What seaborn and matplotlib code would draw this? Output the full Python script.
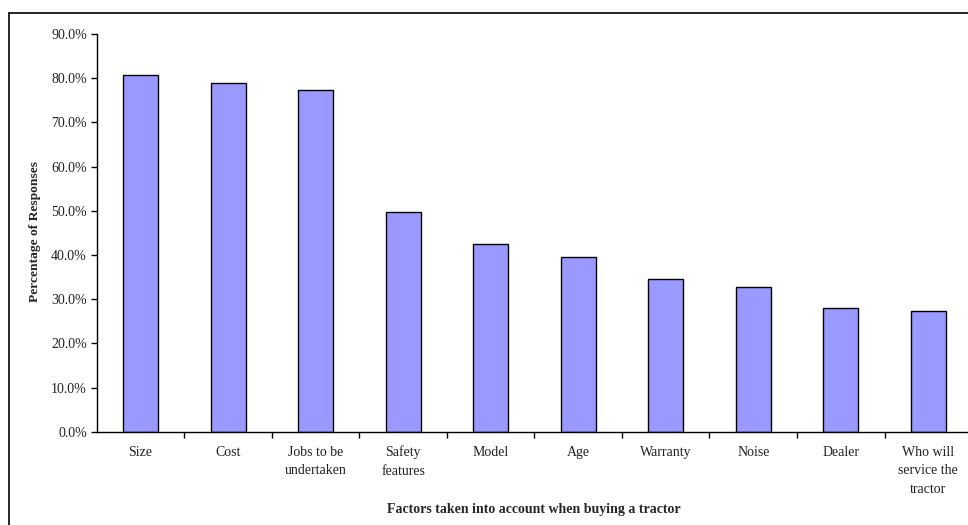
import matplotlib
matplotlib.use("Agg")
import matplotlib.pyplot as plt
from matplotlib.lines import Line2D
from matplotlib.ticker import FixedLocator, PercentFormatter
import seaborn as sns
import pandas as pd

factors = ["Size", "Cost", "Jobs to be\nundertaken", "Safety\nfeatures", "Model",
           "Age", "Warranty", "Noise", "Dealer", "Who will\nservice the\ntractor"]
percent_responses = [80.7, 79.0, 77.3, 49.8, 42.5, 39.5, 34.5, 32.8, 28.0, 27.3]

y_ticks = [0, 10, 20, 30, 40, 50, 60, 70, 80, 90]

df = pd.DataFrame({"factor": factors, "pct": percent_responses})

sns.set_theme(style="white")
plt.rcParams["font.family"] = ["Liberation Serif", "DejaVu Serif"]

fs = 10

fig = plt.figure(figsize=(9.68, 5.25), dpi=100)
ax = fig.add_axes([0.0999, 0.1777, 0.9043, 0.7575])

sns.barplot(data=df, x="factor", y="pct", color="#9999FF", saturation=1,
            width=0.4, edgecolor="black", linewidth=1.0, ax=ax)

ax.set_xlim(-0.5, len(factors) - 0.5)
ax.set_ylim(0, 90)
ax.yaxis.set_major_locator(FixedLocator(y_ticks))
ax.yaxis.set_major_formatter(PercentFormatter(decimals=1))

for side in ("top", "right"):
    ax.spines[side].set_visible(False)
for side in ("left", "bottom"):
    ax.spines[side].set_color("black")
    ax.spines[side].set_linewidth(1.0)

ax.tick_params(axis="y", which="major", direction="out", length=4, width=1,
               color="black", labelsize=fs, pad=3, left=True, labelcolor="#222222")
ax.tick_params(axis="x", which="major", length=0, labelsize=fs, pad=10,
               labelcolor="#222222")
ax.xaxis.set_minor_locator(FixedLocator([i + 0.5 for i in range(len(factors))]))
ax.tick_params(axis="x", which="minor", direction="out", length=4, width=1,
               color="black", bottom=True)

for lbl in ax.get_xticklabels():
    lbl.set_linespacing(1.55)
    lbl.set_verticalalignment("top")

ax.set_xlabel("")
ax.set_ylabel("")
fig.text(534 / 968, 1 - 510 / 525, "Factors taken into account when buying a tractor",
         fontsize=fs, fontweight="bold", ha="center", va="center")
fig.text(35.5 / 968, 1 - 232 / 525, "Percentage of Responses", fontsize=9.7,
         fontweight="bold", rotation=90, ha="center", va="center")

# outer chart-area border
fig.add_artist(Line2D([9 / 968, 9 / 968], [0, 1 - 13 / 525],
                      transform=fig.transFigure, color="black", lw=1.2))
fig.add_artist(Line2D([9 / 968, 1], [1 - 13 / 525, 1 - 13 / 525],
                      transform=fig.transFigure, color="black", lw=1.2))

fig.savefig("out.png", dpi=100, facecolor="white")
